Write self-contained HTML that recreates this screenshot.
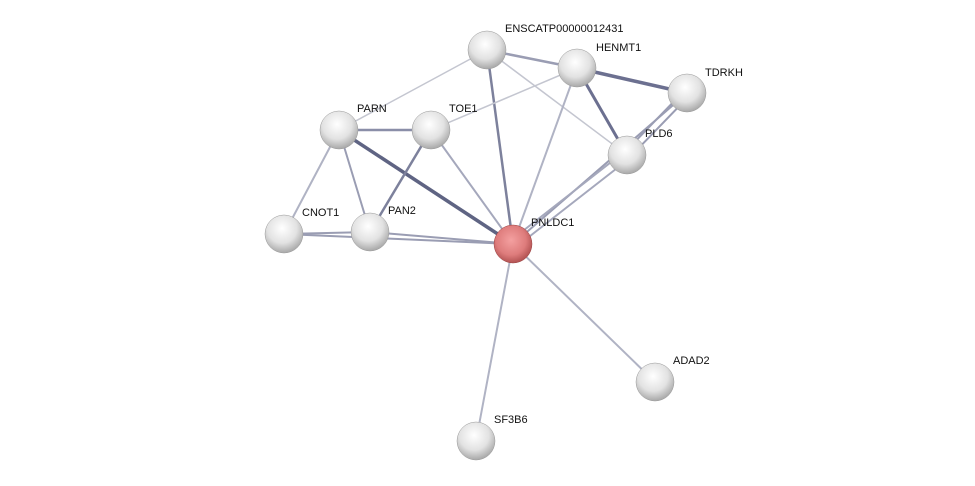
<!DOCTYPE html>
<html><head><meta charset="utf-8"><style>
html,body{margin:0;padding:0;background:#fff;}
svg{display:block;}
text{font-family:"Liberation Sans",sans-serif;font-size:11px;fill:#111;}
</style></head><body>
<svg width="975" height="486" viewBox="0 0 975 486" xmlns="http://www.w3.org/2000/svg">
<defs>
<radialGradient id="g" cx="45%" cy="35%" r="65%">
<stop offset="0" stop-color="#ffffff"/><stop offset="0.6" stop-color="#e2e2e2"/><stop offset="1" stop-color="#a8a8a8"/>
</radialGradient>
<radialGradient id="r" cx="45%" cy="40%" r="65%">
<stop offset="0" stop-color="#f4a0a0"/><stop offset="0.6" stop-color="#de7c7c"/><stop offset="1" stop-color="#a84848"/>
</radialGradient>
</defs>
<g stroke-linecap="round">
<line x1="487" y1="50" x2="339" y2="130" stroke="#c4c6d0" stroke-width="1.5"/>
<line x1="487" y1="50" x2="577" y2="68" stroke="#9a9db3" stroke-width="2.5"/>
<line x1="487" y1="50" x2="513" y2="244" stroke="#7d819c" stroke-width="2.5"/>
<line x1="487" y1="50" x2="627" y2="155" stroke="#c4c6d0" stroke-width="1.5"/>
<line x1="577" y1="68" x2="687" y2="93" stroke="#6c7090" stroke-width="3.5"/>
<line x1="577" y1="68" x2="627" y2="155" stroke="#6c7090" stroke-width="3"/>
<line x1="577" y1="68" x2="431" y2="130" stroke="#c4c6d0" stroke-width="1.5"/>
<line x1="577" y1="68" x2="513" y2="244" stroke="#b0b3c4" stroke-width="2"/>
<line x1="684" y1="91" x2="624" y2="153" stroke="#9a9db3" stroke-width="2"/>
<line x1="690" y1="95" x2="630" y2="157" stroke="#9a9db3" stroke-width="2"/>
<line x1="687" y1="93" x2="513" y2="244" stroke="#9a9db3" stroke-width="2"/>
<line x1="624" y1="152" x2="510" y2="241" stroke="#a5a8bc" stroke-width="2"/>
<line x1="630" y1="158" x2="516" y2="247" stroke="#a5a8bc" stroke-width="2"/>
<line x1="339" y1="130" x2="431" y2="130" stroke="#8a8ea8" stroke-width="2.5"/>
<line x1="339" y1="130" x2="513" y2="244" stroke="#5f6483" stroke-width="3.5"/>
<line x1="339" y1="130" x2="284" y2="234" stroke="#b0b3c4" stroke-width="2"/>
<line x1="339" y1="130" x2="370" y2="232" stroke="#9a9db3" stroke-width="2"/>
<line x1="431" y1="130" x2="370" y2="232" stroke="#7d819c" stroke-width="2.5"/>
<line x1="431" y1="130" x2="513" y2="244" stroke="#a5a8bc" stroke-width="2"/>
<line x1="284" y1="234" x2="370" y2="232" stroke="#9a9db3" stroke-width="2"/>
<line x1="284" y1="234" x2="513" y2="244" stroke="#9a9db3" stroke-width="2"/>
<line x1="370" y1="232" x2="513" y2="244" stroke="#9a9db3" stroke-width="2"/>
<line x1="513" y1="244" x2="655" y2="382" stroke="#b0b3c4" stroke-width="2"/>
<line x1="513" y1="244" x2="476" y2="441" stroke="#b0b3c4" stroke-width="2"/>
</g>
<g>
<circle cx="487" cy="50" r="19" fill="url(#g)" stroke="#999" stroke-width="0.5"/>
<circle cx="577" cy="68" r="19" fill="url(#g)" stroke="#999" stroke-width="0.5"/>
<circle cx="687" cy="93" r="19" fill="url(#g)" stroke="#999" stroke-width="0.5"/>
<circle cx="339" cy="130" r="19" fill="url(#g)" stroke="#999" stroke-width="0.5"/>
<circle cx="431" cy="130" r="19" fill="url(#g)" stroke="#999" stroke-width="0.5"/>
<circle cx="627" cy="155" r="19" fill="url(#g)" stroke="#999" stroke-width="0.5"/>
<circle cx="284" cy="234" r="19" fill="url(#g)" stroke="#999" stroke-width="0.5"/>
<circle cx="370" cy="232" r="19" fill="url(#g)" stroke="#999" stroke-width="0.5"/>
<circle cx="513" cy="244" r="19" fill="url(#r)" stroke="#944" stroke-width="0.5"/>
<circle cx="655" cy="382" r="19" fill="url(#g)" stroke="#999" stroke-width="0.5"/>
<circle cx="476" cy="441" r="19" fill="url(#g)" stroke="#999" stroke-width="0.5"/>
</g>
<text x="505" y="32">ENSCATP00000012431</text>
<text x="596" y="51">HENMT1</text>
<text x="705" y="76">TDRKH</text>
<text x="357" y="112">PARN</text>
<text x="449" y="112">TOE1</text>
<text x="645" y="137">PLD6</text>
<text x="302" y="216">CNOT1</text>
<text x="388" y="214">PAN2</text>
<text x="531" y="226">PNLDC1</text>
<text x="673" y="364">ADAD2</text>
<text x="494" y="423">SF3B6</text>
</svg>
</body></html>
